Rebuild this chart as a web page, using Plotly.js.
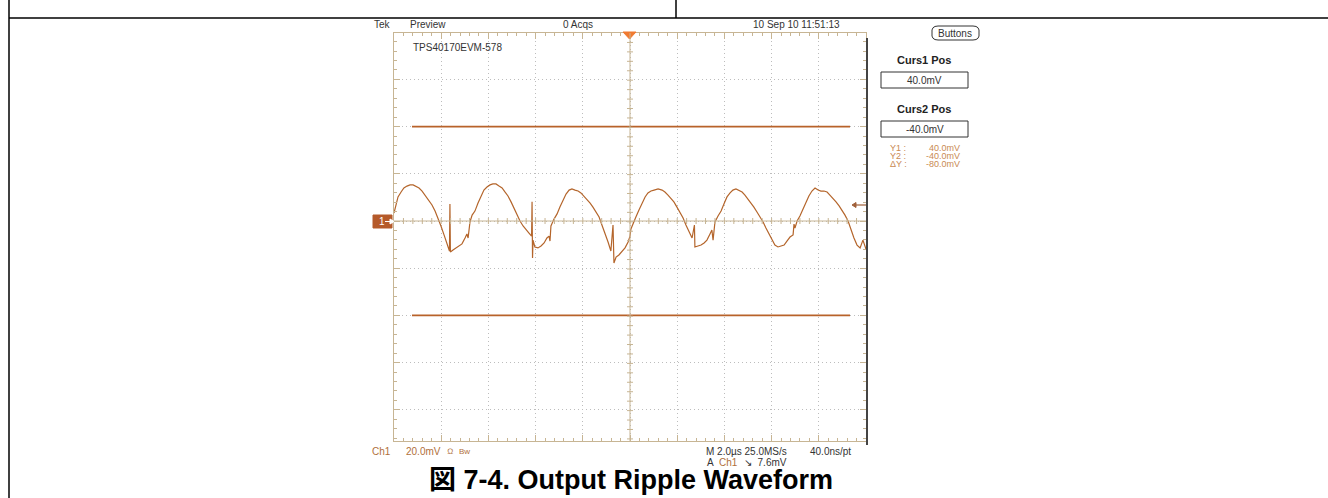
<!DOCTYPE html>
<html><head><meta charset="utf-8">
<script src="https://cdn.plot.ly/plotly-3.0.1.min.js"></script>
<style>html,body{margin:0;padding:0;background:#fff}#c{width:1328px;height:498px}</style>
</head><body><div id="c"></div>
<script>
// ---- data (time in µs from left edge of screen, voltage in mV) ----
const timeUs = [0,0.08,0.17,0.30,0.42,0.55,0.68,0.81,0.93,1.06,1.19,1.31,1.40,1.48,1.61,1.74,1.86,1.99,2.12,2.25,2.35,2.37,2.39,2.50,2.63,2.75,2.88,3.01,3.09,3.14,3.22,3.31,3.43,3.56,3.69,3.81,3.94,4.07,4.19,4.32,4.45,4.58,4.70,4.83,4.96,5.08,5.21,5.34,5.47,5.59,5.72,5.83,5.85,5.87,5.89,5.97,6.10,6.23,6.36,6.48,6.57,6.61,6.65,6.78,6.91,7.03,7.16,7.29,7.42,7.54,7.67,7.80,7.92,8.05,8.18,8.31,8.43,8.56,8.69,8.81,8.94,9.07,9.19,9.28,9.32,9.41,9.53,9.66,9.79,9.92,10.0,10.04,10.13,10.25,10.38,10.51,10.64,10.76,10.89,11.02,11.19,11.36,11.48,11.61,11.74,11.86,11.99,12.12,12.25,12.37,12.50,12.63,12.73,12.75,12.88,13.01,13.14,13.26,13.39,13.47,13.52,13.60,13.73,13.86,13.98,14.11,14.24,14.36,14.49,14.62,14.75,14.87,15.00,15.13,15.25,15.38,15.51,15.64,15.76,15.89,16.02,16.14,16.27,16.40,16.53,16.65,16.78,16.91,16.95,16.99,17.08,17.20,17.33,17.46,17.58,17.71,17.84,17.97,18.09,18.22,18.35,18.47,18.60,18.73,18.86,18.98,19.11,19.24,19.36,19.49,19.62,19.75,19.87,20.0];
const rippleMv = [3.4,7.2,10.2,12.3,14.0,14.8,15.3,15.3,14.8,14.0,12.7,11.0,9.3,8.1,6.8,4.2,1.3,-2.1,-5.9,-10.2,-12.7,7.2,-13.1,-12.3,-11.4,-10.6,-9.7,-7.2,-5.5,-7.2,-0.4,2.5,4.2,7.6,10.6,13.1,14.4,15.3,15.7,15.7,14.8,14.0,12.3,10.6,8.1,5.5,2.5,0,-2.1,-3.8,-5.1,-6.4,8.1,-15.7,-8.1,-11.0,-11.4,-10.6,-9.3,-7.2,-6.4,-8.5,-2.1,0.8,3.0,5.9,8.9,11.4,13.1,13.6,13.1,12.7,11.9,10.6,9.3,7.6,5.9,3.8,1.7,-1.7,-5.1,-8.9,-12.7,-1.7,-17.8,-15.3,-14.4,-13.1,-11.4,-8.9,-6.4,-3.4,-0.8,1.7,4.7,7.6,10.2,11.9,12.7,13.1,13.6,13.1,12.3,11.0,9.7,8.1,5.9,3.8,1.3,-1.7,-4.7,-7.2,-1.7,-11.0,-10.6,-10.2,-9.3,-8.1,-5.5,-3.8,-8.1,-0.4,2.1,4.2,7.2,10.2,11.9,13.1,13.6,13.1,12.3,11.0,9.3,7.6,5.9,3.8,1.7,-0.4,-3.0,-5.5,-7.6,-10.2,-11.0,-10.6,-10.2,-8.5,-6.8,-5.9,-1.3,-3.0,0,2.1,5.1,8.1,10.6,12.7,14.0,13.1,12.7,12.7,12.3,11.0,9.7,8.1,6.4,4.7,2.5,0,-3.8,-7.2,-10.2,-11.4,-8.1,-11.9];
const cursorMv = [40.0, -40.0];
const cursorLabels = ["Curs1 Pos", "Curs2 Pos"];
const readoutNames = ["Y1 :", "Y2 :", "\u0394Y :"];
const readoutValues = ["40.0mV", "-40.0mV", "-80.0mV"];
const voltsPerDivMv = 20;
const timePerDivUs = 2;

// ---- geometry ----
const W = 1328, H = 498;
const PX0 = 394, PX1 = 866, PY0 = 33, PY1 = 441, PYC = 221;
const pxDiv = (PX1 - PX0) / 10;
const yTop = (PYC - PY0) / pxDiv * voltsPerDivMv;
const yBot = -(PY1 - PYC) / pxDiv * voltsPerDivMv;
const px = x => x / W, py = y => 1 - y / H;
const TAN = '#c7b594', TRACE = '#b4652b', CUR = '#b8622a', READ = '#c98a52', CH = '#b0703a';
const FONT = 'Liberation Sans, Arial, sans-serif';

const ann = [], shp = [];
function T(text, x, y, o) {
  o = o || {};
  ann.push({xref:'paper', yref:'paper', x:px(x), y:py(y), text:text, showarrow:false,
    xanchor:o.xa||'left', yanchor:'middle', borderpad:0,
    font:{family:o.fam||FONT, size:o.size||10, color:o.color||'#333', weight:o.weight||'normal'}});
}
function L(x0,y0,x1,y1,color,w){ shp.push({type:'line',xref:'paper',yref:'paper',x0:px(x0),y0:py(y0),x1:px(x1),y1:py(y1),line:{color:color,width:w||1}}); }
function R(x0,y0,x1,y1,line,fill){ shp.push({type:'rect',xref:'paper',yref:'paper',x0:px(x0),y0:py(y0),x1:px(x1),y1:py(y1),line:{color:line,width:1},fillcolor:fill||'rgba(0,0,0,0)'}); }
function P(d,fill,line){ shp.push({type:'path',xref:'paper',yref:'paper',path:d,fillcolor:fill,line:{color:line||fill,width:1}}); }
const pp = (x,y) => px(x)+','+py(y);

// page frame (table cell borders)
L(9,0,9,H,'#000',1.5); L(9,18,W,18,'#000',1.5); L(676,0,676,18,'#000',1.5);

// scope header
T('Tek', 373, 25);
T('Preview', 409, 25);
T('0 Acqs', 562, 25);
T('10 Sep 10 11:51:13', 752, 25);
T('TPS40170EVM-578', 412, 48);
// trigger position marker
P('M '+pp(623,32)+' L '+pp(636,32)+' L '+pp(629.5,39)+' Z', '#f07a30');

// crosshair with 0.2-div ticks
const CX = (PX0+PX1)/2;
L(CX, PY0, CX, PY1, TAN, 1);
L(PX0, PYC, PX1, PYC, TAN, 1);
for (let i = 1; i < 50; i++) { const x = PX0 + i * pxDiv / 5; L(x, PYC-3, x, PYC+3, TAN, 1); }
for (let i = 1; ; i++) { const y = PY0 + i * pxDiv / 5; if (y >= PY1 - 1) break; L(CX-3, y, CX+3, y, TAN, 1); }

// right border dark bar
L(867, 38, 867, 445, '#444', 2);

// ground marker "1→"
R(373, 215, 392, 228, '#b55a2a', '#b55a2a');
T('1', 378, 221.5, {color:'#fff'});
L(385, 221.5, 393, 221.5, '#fff', 1);
P('M '+pp(390,219)+' L '+pp(394,221.5)+' L '+pp(390,224)+' Z', '#fff');
// trigger level arrow
L(856, 205, 866, 205, '#a0603a', 1.2);
P('M '+pp(856,202.5)+' L '+pp(852,205)+' L '+pp(856,207.5)+' Z', '#a0603a');

// side panel
P('M '+pp(938,26)+' L '+pp(973,26)+' Q '+pp(980,26)+' '+pp(979,33)+' Q '+pp(980,40)+' '+pp(973,40)+' L '+pp(938,40)+' Q '+pp(931,40)+' '+pp(932,33)+' Q '+pp(931,26)+' '+pp(938,26)+' Z', 'rgba(0,0,0,0)', '#333');
T('Buttons', 955, 33.5, {xa:'center'});
const boxY = [[72,88],[121,137]];
for (let k = 0; k < 2; k++) {
  T('<b>'+cursorLabels[k]+'</b>', 924, k ? 109 : 60, {size:11, xa:'center', color:'#222'});
  R(881, boxY[k][0], 968, boxY[k][1], '#333');
  T(cursorMv[k].toFixed(1)+'mV', 924.5, (boxY[k][0]+boxY[k][1])/2+0.5, {xa:'center'});
}
readoutNames.forEach((n, i) => {
  T(n, 889, 148 + i*7.8, {size:9, color:READ});
  T(readoutValues[i], 961, 148 + i*7.8, {size:9, color:READ, xa:'right'});
});

// bottom readouts
T('Ch1', 371, 451.5, {color:CH});
T('20.0mV', 405, 451.5, {color:CH});
T('\u2126', 446, 451.5, {size:8, color:CH});
T('Bw', 458, 451.5, {size:8, color:CH});
T('M 2.0\u00b5s 25.0MS/s', 705, 451.5);
T('40.0ns/pt', 809, 451.5);
T('A', 706, 462);
T('Ch1', 718, 462, {color:CH});
T('\u2198  7.6mV', 743, 462);

// figure caption
T('<b>\u56f3 7-4. Output Ripple Waveform</b>', 631, 480, {size:27, xa:'center', color:'#000', fam:'Liberation Sans, Noto Sans CJK JP, sans-serif'});

const xStart = (412 - PX0) / pxDiv * timePerDivUs, xEnd = (850 - PX0) / pxDiv * timePerDivUs;
const traces = [
  {x: timeUs, y: rippleMv, type:'scatter', mode:'lines', line:{color:TRACE, width:1.2}, hoverinfo:'skip'}
];
cursorMv.forEach(v => traces.push({x:[xStart, xEnd], y:[v, v], type:'scatter', mode:'lines', line:{color:CUR, width:1.6}, hoverinfo:'skip'}));

const gridDash = '1px,3px';
const axisCommon = {showgrid:true, gridcolor:'#bdbdbd', griddash:gridDash, gridwidth:1, zeroline:false,
  showline:true, linecolor:TAN, linewidth:1, mirror:'ticks', ticks:'inside', ticklen:6, tickcolor:TAN,
  showticklabels:false, fixedrange:true};
const layout = {
  width: W, height: H, margin:{l:0,r:0,t:0,b:0}, showlegend:false,
  paper_bgcolor:'#fff', plot_bgcolor:'#fff',
  xaxis:Object.assign({domain:[px(PX0), px(PX1)], range:[0, 10*timePerDivUs], dtick:timePerDivUs, tick0:0,
    minor:{dtick:timePerDivUs/5, ticks:'inside', ticklen:3, tickcolor:TAN, showgrid:false}}, axisCommon),
  yaxis:Object.assign({domain:[py(PY1), py(PY0)], range:[yBot, yTop], dtick:voltsPerDivMv, tick0:0,
    minor:{dtick:voltsPerDivMv/5, ticks:'inside', ticklen:3, tickcolor:TAN, showgrid:false}}, axisCommon),
  annotations: ann, shapes: shp
};
Plotly.newPlot('c', traces, layout, {staticPlot:true, displayModeBar:false});
</script></body></html>
